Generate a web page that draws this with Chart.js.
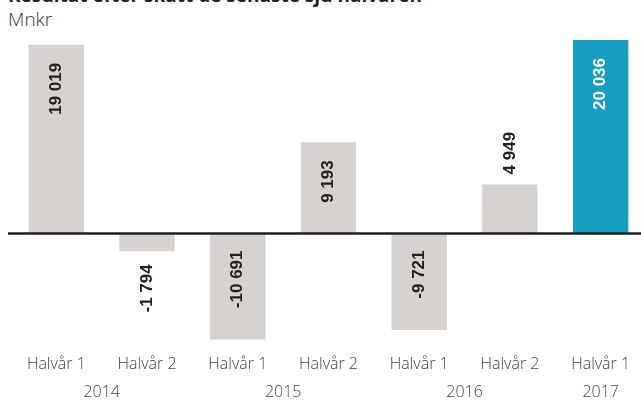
<!DOCTYPE html>
<html lang="sv">
<head>
    <meta charset="UTF-8">
    <script src="https://cdn.jsdelivr.net/npm/chart.js"></script>
    <title>Resultat efter skatt</title>
    <style>
        body {
            margin: 0;
            width: 641px;
            height: 400px;
            overflow: hidden;
            position: relative;
            background: #fff;
            font-family: "Open Sans", sans-serif;
        }

        .title {
            position: absolute;
            left: 8px;
            top: -15px;
            font-size: 19px;
            line-height: 20px;
            font-weight: 700;
            color: #231f20;
            white-space: nowrap;
        }

        .unit {
            position: absolute;
            left: 8px;
            top: 8px;
            font-size: 19px;
            line-height: 22px;
            font-weight: 300;
            color: #333;
        }

        .chart-box {
            position: absolute;
            left: 0;
            top: 0;
            width: 648px;
            height: 403px;
        }
    </style>
</head>

<body>
    <div class="title">Resultat efter skatt de senaste sju halvåren</div>
    <div class="unit">Mnkr</div>
    <div class="chart-box">
        <canvas id="barChart"></canvas>
    </div>

    <script>
        // data
        var halfYears = ['Halvår 1', 'Halvår 2', 'Halvår 1', 'Halvår 2', 'Halvår 1', 'Halvår 2', 'Halvår 1'];
        var results = [19019, -1794, -10691, 9193, -9721, 4949, 20036];
        var years = ['2014', '2015', '2016', '2017'];
        var yearPos = [0.5, 2.5, 4.5, 6];

        var grey = '#d6d2d0';
        var blue = '#169fc3';
        var barColors = results.map(function (v, i) { return i === results.length - 1 ? blue : grey; });

        function fmt(v) {
            var s = Math.abs(v).toString().replace(/\B(?=(\d{3})+(?!\d))/g, ' ');
            return (v < 0 ? '-' : '') + s;
        }

        // zero line across the whole width
        var zeroLine = {
            id: 'zeroLine',
            afterDatasetsDraw: function (chart) {
                var ctx = chart.ctx;
                var y = chart.scales.y.getPixelForValue(0);
                ctx.save();
                ctx.strokeStyle = '#231f20';
                ctx.lineWidth = 2.5;
                ctx.beginPath();
                ctx.moveTo(8, y);
                ctx.lineTo(chart.width, y);
                ctx.stroke();
                ctx.restore();
            }
        };

        // vertical value labels
        var valueLabels = {
            id: 'valueLabels',
            afterDraw: function (chart) {
                var ctx = chart.ctx;
                var top = chart.chartArea.top;
                var meta = chart.getDatasetMeta(0);
                ctx.save();
                ctx.font = 'bold 17px "Liberation Sans", Arial, sans-serif';
                ctx.textBaseline = 'middle';
                meta.data.forEach(function (bar, i) {
                    var v = results[i];
                    var txt = fmt(v);
                    var w = ctx.measureText(txt).width;
                    var barTop = Math.max(bar.y, top);
                    var h = Math.abs(bar.y - bar.base);
                    var inside = h > w + 30;
                    var y, align;
                    if (v >= 0) {
                        if (inside) { y = barTop + 18; align = 'right'; }
                        else { y = barTop - 10; align = 'left'; }
                    } else {
                        if (inside) { y = bar.base + 17; align = 'right'; }
                        else { y = bar.y + 13; align = 'right'; }
                    }
                    ctx.fillStyle = (inside && i === results.length - 1) ? '#fff' : '#231f20';
                    ctx.save();
                    ctx.translate(bar.x, y);
                    ctx.rotate(-Math.PI / 2);
                    ctx.textAlign = align;
                    ctx.fillText(txt, 0, 0);
                    ctx.restore();
                });
                ctx.restore();
            }
        };

        var ctx = document.getElementById('barChart').getContext('2d');
        new Chart(ctx, {
            type: 'bar',
            data: {
                labels: halfYears,
                datasets: [{
                    data: results,
                    backgroundColor: barColors,
                    borderWidth: 0,
                    barPercentage: 0.61,
                    categoryPercentage: 1
                }]
            },
            options: {
                responsive: true,
                maintainAspectRatio: false,
                animation: false,
                layout: { padding: { left: 11, right: 2, top: 40, bottom: 0 } },
                plugins: {
                    legend: { display: false },
                    tooltip: { enabled: false }
                },
                scales: {
                    y: {
                        display: false,
                        min: -11400,
                        max: 19500
                    },
                    x: {
                        grid: { display: false, drawTicks: false },
                        border: { display: false },
                        ticks: {
                            color: '#444',
                            padding: 8,
                            font: { family: '"Open Sans"', size: 16, weight: 300 }
                        }
                    },
                    x2: {
                        type: 'linear',
                        position: 'bottom',
                        offset: false,
                        min: -0.5,
                        max: 6.5,
                        grid: { display: false, drawTicks: false },
                        border: { display: false },
                        afterBuildTicks: function (axis) {
                            axis.ticks = yearPos.map(function (p) { return { value: p }; });
                        },
                        ticks: {
                            color: '#444',
                            padding: 1,
                            autoSkip: false,
                            maxRotation: 0,
                            font: { family: '"Open Sans"', size: 16, weight: 300 },
                            callback: function (value) {
                                var i = yearPos.indexOf(value);
                                return i >= 0 ? years[i] : '';
                            }
                        }
                    }
                }
            },
            plugins: [zeroLine, valueLabels]
        });
    </script>
</body>
</html>
